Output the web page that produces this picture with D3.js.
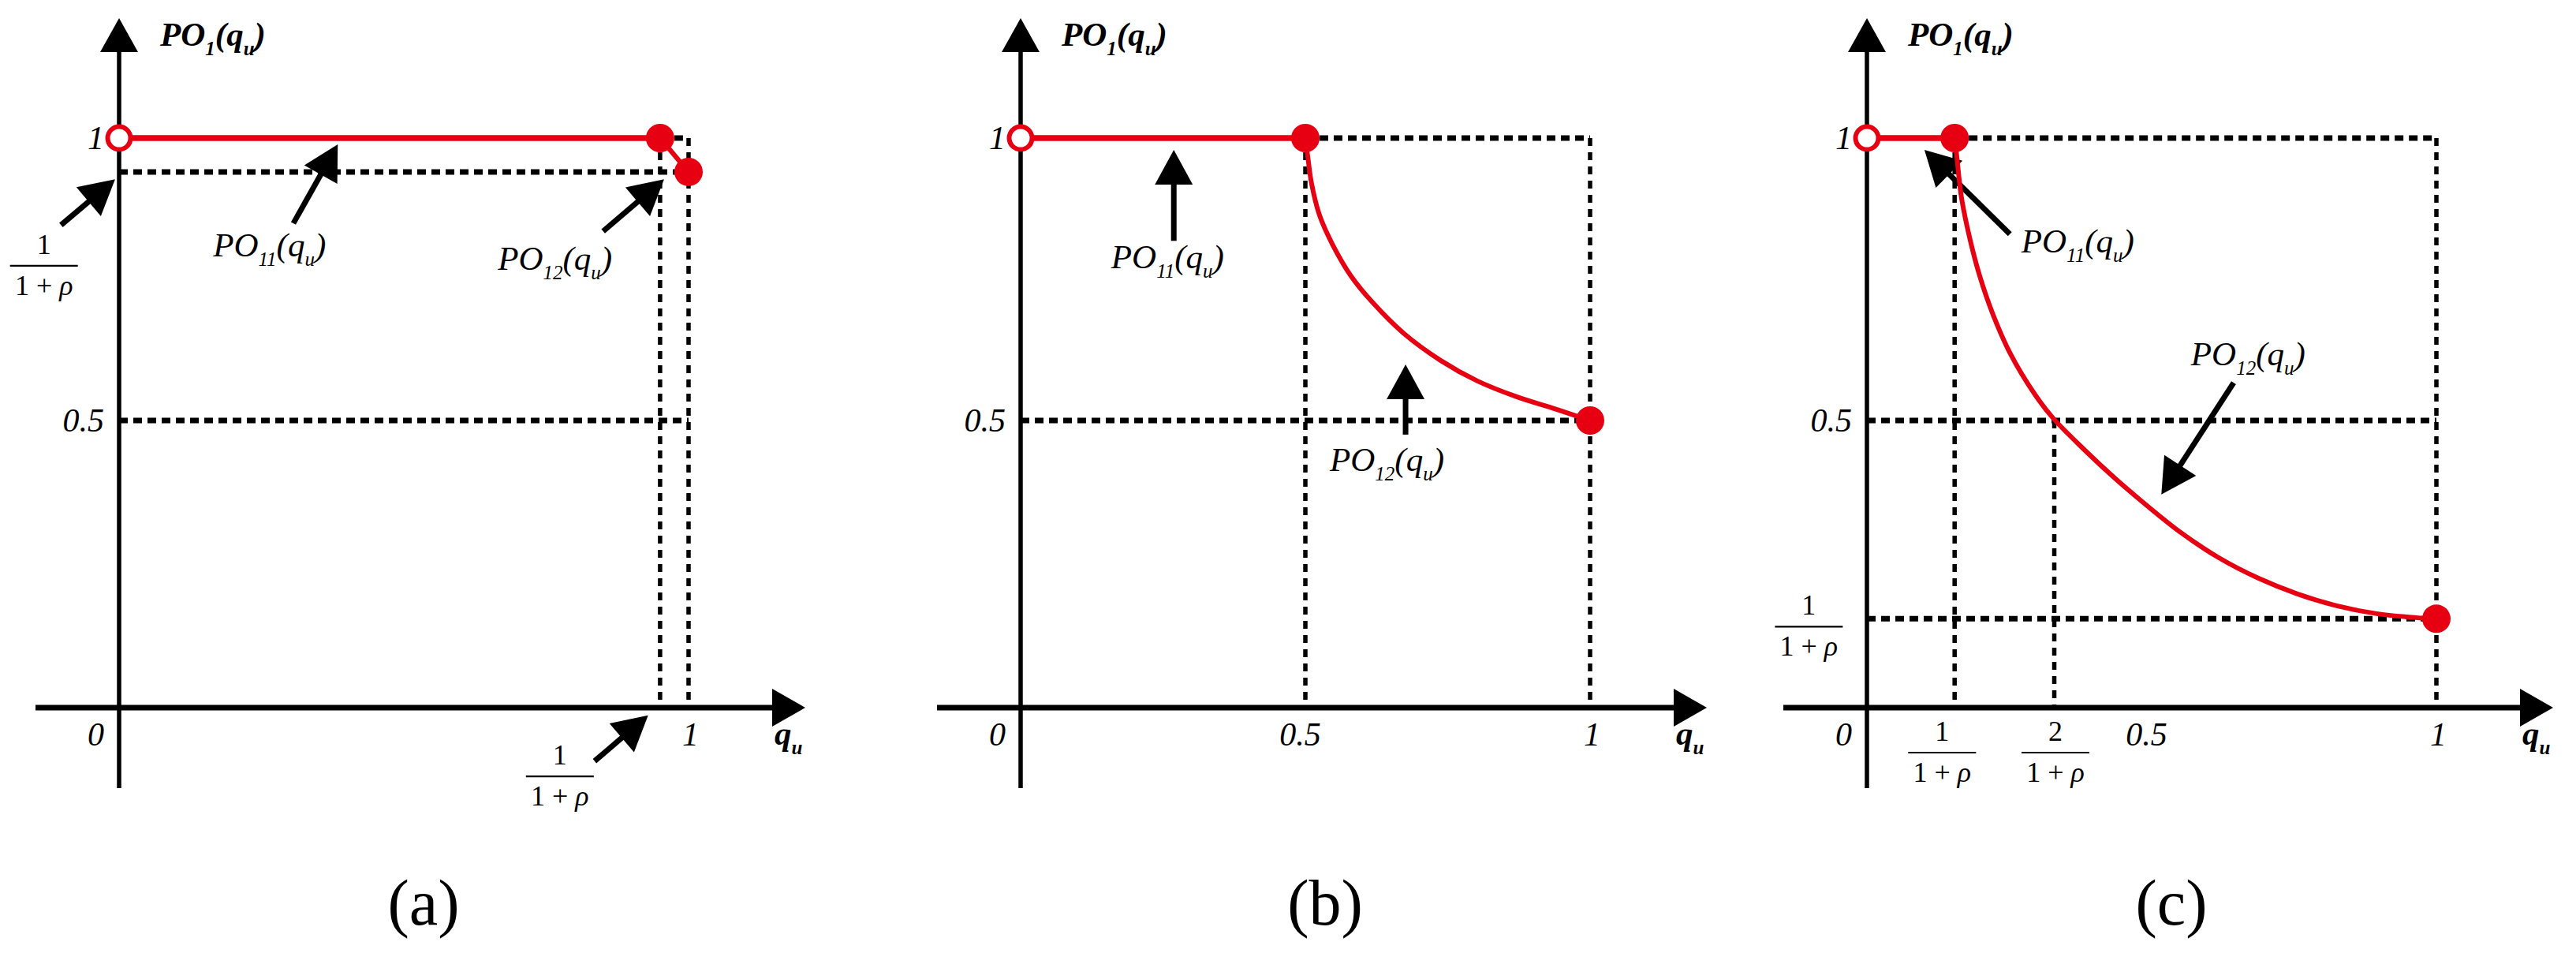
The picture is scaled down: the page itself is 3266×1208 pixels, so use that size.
<!DOCTYPE html>
<html>
<head>
<meta charset="utf-8">
<script src="https://cdn.jsdelivr.net/npm/d3@7"></script>
<style>
  body { margin: 0; background: #fff; }
  svg { display: block; }
  text { font-family: "Liberation Serif", "Times New Roman", serif; }
</style>
</head>
<body>
<div id="chart"></div>
<script>
// ---- values ----
const panelNames = ["(a)", "(b)", "(c)"];
const yTickVals = [0.5, 1];
const xTickA = [0, 1];
const xTickB = [0, 0.5, 1];
const xTickC = [0, 0.5, 1];

// PO11 : flat part at 1 (open start, closed end)
const po11A = [[0, 1], [0.95, 1]];
const po11B = [[0, 1], [0.5, 1]];
const po11C = [[0, 1], [0.154, 1]];

// PO12 : falling part
const po12A = [[0.95, 1], [1, 0.94]];
const po12B = [[0.5, 1], [0.504, 0.969], [0.511, 0.919], [0.525, 0.863], [0.548, 0.811],
  [0.58, 0.756], [0.618, 0.709], [0.673, 0.654], [0.738, 0.606], [0.802, 0.57],
  [0.871, 0.542], [0.94, 0.52], [1, 0.5]];
const po12C = [[0.154, 1], [0.157, 0.975], [0.166, 0.895], [0.18, 0.825], [0.198, 0.756],
  [0.222, 0.686], [0.253, 0.616], [0.295, 0.546], [0.327, 0.504], [0.382, 0.448],
  [0.434, 0.399], [0.479, 0.36], [0.548, 0.304], [0.618, 0.257], [0.687, 0.221],
  [0.756, 0.193], [0.825, 0.172], [0.895, 0.158], [0.964, 0.151], [1, 0.149]];

// dashed guides [x1, y1, x2, y2]
const guidesA = [[0, 0.94, 1, 0.94], [0, 0.5, 1, 0.5], [0.95, 1, 1, 1], [0.95, 1, 0.95, 0], [1, 1, 1, 0]];
const guidesB = [[0.5, 1, 1, 1], [0, 0.5, 1, 0.5], [0.5, 1, 0.5, 0], [1, 1, 1, 0]];
const guidesC = [[0.154, 1, 1, 1], [0, 0.5, 1, 0.5], [0, 0.149, 1, 0.149],
  [0.154, 1, 0.154, 0], [0.329, 0.5, 0.329, 0], [1, 1, 1, 0]];

// 1/(1+rho) style fraction labels [x, y of bar, numerator]
const fracA = [[-0.132, 0.774, "1"], [0.774, -0.13, "1"]];
const fracB = [];
const fracC = [[-0.102, 0.135, "1"], [0.132, -0.088, "1"], [0.331, -0.088, "2"]];

// pointer arrows [x0, y0, xTip, yTip]
const arrowsA = [[-0.102, 0.846, -0.007, 0.927], [0.306, 0.849, 0.384, 0.989],
  [0.85, 0.835, 0.957, 0.927], [0.835, -0.103, 0.929, -0.022]];
const arrowsB = [[0.269, 0.818, 0.269, 0.979], [0.676, 0.475, 0.676, 0.599]];
const arrowsC = [[0.251, 0.83, 0.101, 0.979], [0.644, 0.567, 0.517, 0.369]];

// curve names [x, y, subscript]
const labelsA = [[0.165, 0.79, "11"], [0.665, 0.767, "12"]];
const labelsB = [[0.159, 0.77, "11"], [0.543, 0.411, "12"]];
const labelsC = [[0.271, 0.797, "11"], [0.569, 0.598, "12"]];

// ---- layout ----
const W = 3266, H = 1208;
const FONT = "Liberation Serif, Times New Roman, serif";
const RED = "#e60012";
const originX = [151, 1294, 2367];
const unitX = 722;
const axisY = 897;

const xTicks = [xTickA, xTickB, xTickC];
const po11 = [po11A, po11B, po11C];
const po12 = [po12A, po12B, po12C];
const guides = [guidesA, guidesB, guidesC];
const fracs = [fracA, fracB, fracC];
const arrows = [arrowsA, arrowsB, arrowsC];
const labels = [labelsA, labelsB, labelsC];

const svg = d3.select("#chart").append("svg")
  .attr("width", W).attr("height", H);
svg.append("rect").attr("width", W).attr("height", H).attr("fill", "#fff");

const y = d3.scaleLinear().domain([0, 1]).range([891, 175]);

function arrow(g, x0, y0, x1, y1) {
  var dx = x1 - x0, dy = y1 - y0, len = Math.hypot(dx, dy);
  var ux = dx / len, uy = dy / len, L = 44, hw = 24;
  var bx = x1 - ux * L, by = y1 - uy * L;
  g.append("line")
    .attr("x1", x0).attr("y1", y0)
    .attr("x2", bx + ux * 6).attr("y2", by + uy * 6)
    .attr("stroke", "#000").attr("stroke-width", 7);
  g.append("path")
    .attr("d", "M" + x1 + "," + y1 + "L" + (bx - uy * hw) + "," + (by + ux * hw) +
      "L" + (bx + uy * hw) + "," + (by - ux * hw) + "Z")
    .attr("fill", "#000");
}

function poLabel(g, px, py, sub, bold) {
  var t = g.append("text")
    .attr("x", px).attr("y", py)
    .attr("font-family", FONT)
    .attr("font-size", 43)
    .attr("font-style", "italic")
    .attr("font-weight", bold ? "bold" : "normal");
  t.append("tspan").text("PO");
  t.append("tspan").attr("font-size", 25).attr("dy", 12).text(sub);
  t.append("tspan").attr("dy", -12).text("(q");
  t.append("tspan").attr("font-size", 25).attr("dy", 12).text("u");
  t.append("tspan").attr("dy", -12).text(")");
}

function fraction(g, cx, cy, num) {
  g.append("text")
    .attr("x", cx).attr("y", cy - 15)
    .attr("text-anchor", "middle")
    .attr("font-family", FONT)
    .attr("font-size", 36)
    .text(num);
  g.append("line")
    .attr("x1", cx - 43).attr("x2", cx + 43)
    .attr("y1", cy).attr("y2", cy)
    .attr("stroke", "#000").attr("stroke-width", 2.2);
  var t = g.append("text")
    .attr("x", cx).attr("y", cy + 37)
    .attr("text-anchor", "middle")
    .attr("font-family", FONT)
    .attr("font-size", 36);
  t.append("tspan").text("1");
  t.append("tspan").attr("dx", 9).text("+");
  t.append("tspan").attr("dx", 9).attr("font-style", "italic").text("ρ");
}

panelNames.forEach(function (name, i) {
  const ox = originX[i];
  const x = d3.scaleLinear().domain([0, 1]).range([ox, ox + unitX]);
  const g = svg.append("g");

  // dashed guide lines
  g.selectAll(".guide")
    .data(guides[i])
    .enter().append("line")
    .attr("class", "guide")
    .attr("x1", d => x(d[0])).attr("y1", d => y(d[1]))
    .attr("x2", d => x(d[2]))
    .attr("y2", d => d[3] === 0 ? axisY : y(d[3]))
    .attr("stroke", "#000")
    .attr("stroke-width", d => d[0] === d[2] ? 5.5 : 7)
    .attr("stroke-dasharray", d => d[0] === d[2] ? "10,8" : "11,7");

  // y axis with arrow
  g.append("line")
    .attr("x1", ox).attr("x2", ox).attr("y1", 999).attr("y2", 60)
    .attr("stroke", "#000").attr("stroke-width", 5.5);
  g.append("path")
    .attr("d", "M" + ox + ",23L" + (ox - 24) + ",66L" + (ox + 24) + ",66Z")
    .attr("fill", "#000");

  // x axis with arrow
  g.append("line")
    .attr("x1", ox - 106).attr("x2", ox + 832).attr("y1", axisY).attr("y2", axisY)
    .attr("stroke", "#000").attr("stroke-width", 7);
  g.append("path")
    .attr("d", "M" + (ox + 870) + "," + axisY + "L" + (ox + 828) + "," + (axisY - 24) +
      "L" + (ox + 828) + "," + (axisY + 24) + "Z")
    .attr("fill", "#000");

  // tick labels
  const ya = g.append("g")
    .attr("transform", "translate(" + ox + ",0)")
    .call(d3.axisLeft(y).tickValues(yTickVals).tickSize(0).tickPadding(19).tickFormat(d3.format("")));
  ya.select(".domain").remove();
  ya.attr("font-size", 42).attr("font-family", FONT).attr("font-style", "italic");

  const xa = g.append("g")
    .attr("transform", "translate(0," + axisY + ")")
    .call(d3.axisBottom(x).tickValues(xTicks[i]).tickSize(0).tickPadding(18).tickFormat(d3.format("")));
  xa.select(".domain").remove();
  xa.attr("font-size", 42).attr("font-family", FONT).attr("font-style", "italic");
  xa.selectAll("text").attr("dx", d => d === 0 ? -30 : (d === 1 ? 2 : -7));

  // axis titles
  poLabel(g, ox + 52, 58, "1", true);
  const qt = g.append("text")
    .attr("x", ox + 831).attr("y", 944)
    .attr("font-family", FONT)
    .attr("font-size", 43).attr("font-style", "italic").attr("font-weight", "bold");
  qt.append("tspan").text("q");
  qt.append("tspan").attr("font-size", 25).attr("dy", 12).text("u");

  // fraction labels
  fracs[i].forEach(function (f) {
    fraction(g, x(f[0]), y(f[1]), f[2]);
  });

  // pointer arrows
  arrows[i].forEach(function (a) {
    arrow(g, x(a[0]), y(a[1]), x(a[2]), y(a[3]));
  });

  // curve names
  labels[i].forEach(function (l) {
    poLabel(g, x(l[0]), y(l[1]), l[2], false);
  });

  // red curves
  const line = d3.line().x(d => x(d[0])).y(d => y(d[1]));
  g.append("path")
    .datum(po11[i])
    .attr("d", line)
    .attr("fill", "none").attr("stroke", RED).attr("stroke-width", 7.5);
  g.append("path")
    .datum(po12[i])
    .attr("d", line.curve(d3.curveCatmullRom.alpha(0.5)))
    .attr("fill", "none").attr("stroke", RED).attr("stroke-width", 6);

  const p11 = po11[i], p12 = po12[i];
  g.append("circle")
    .attr("cx", x(p11[0][0])).attr("cy", y(p11[0][1])).attr("r", 14.5)
    .attr("fill", "#fff").attr("stroke", RED).attr("stroke-width", 6);
  g.selectAll(".dot")
    .data([p11[p11.length - 1], p12[p12.length - 1]])
    .enter().append("circle")
    .attr("class", "dot")
    .attr("cx", d => x(d[0])).attr("cy", d => y(d[1])).attr("r", 18)
    .attr("fill", RED);

  // caption
  g.append("text")
    .attr("x", ox + 386).attr("y", 1172)
    .attr("text-anchor", "middle")
    .attr("font-family", FONT)
    .attr("font-size", 82)
    .text(name);
});
</script>
</body>
</html>
